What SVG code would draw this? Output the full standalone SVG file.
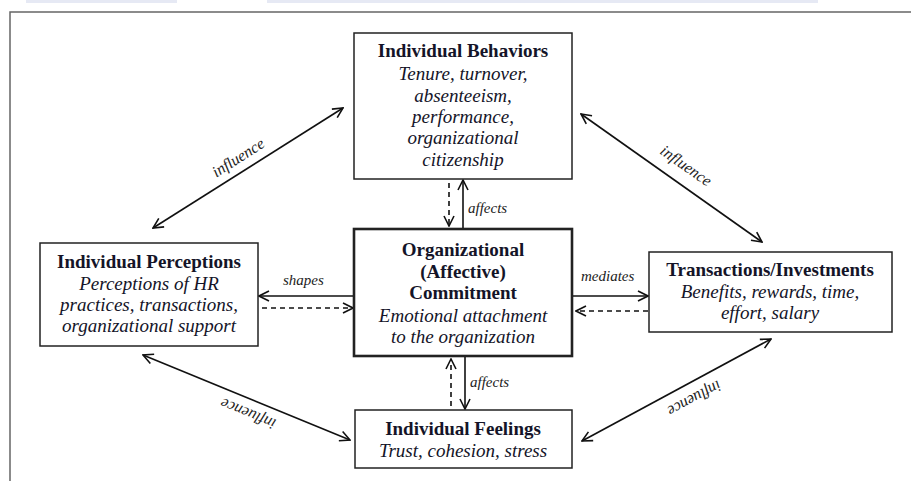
<svg xmlns="http://www.w3.org/2000/svg" width="911" height="481" viewBox="0 0 911 481">
<defs>
<marker id="ah" viewBox="0 0 12 12" refX="11" refY="6" markerWidth="12" markerHeight="12" markerUnits="userSpaceOnUse" orient="auto-start-reverse">
<path d="M1,1 L11,6 L1,11" fill="none" stroke="#111" stroke-width="1.6"/>
</marker>
</defs>
<style>
.box{fill:#fff;stroke:#222;stroke-width:1.5}
.main{fill:#fff;stroke:#222;stroke-width:2.6}
.t{font-family:"Liberation Serif","Times New Roman",serif;font-size:19px;fill:#141428;text-anchor:middle}
.b{font-weight:bold}
.i{font-style:italic}
.lab{font-family:"Liberation Serif","Times New Roman",serif;font-size:15px;font-style:italic;fill:#222}
.inf{font-size:16px}
.c{stroke:#111;stroke-width:1.6;fill:none}
.d{stroke-dasharray:5,4}
</style>
<rect width="911" height="481" fill="#fff"/>
<rect x="26" y="0" width="151" height="3" fill="#e6e9f4"/>
<rect x="267" y="0" width="551" height="3" fill="#e6e9f4"/>
<path d="M10,481 L10,12 L911,12" fill="none" stroke="#666" stroke-width="1.5"/>

<g id="connectors">
<line class="c" x1="153" y1="228" x2="343" y2="108" marker-start="url(#ah)" marker-end="url(#ah)"/>
<line class="c" x1="581" y1="114" x2="762" y2="242" marker-start="url(#ah)" marker-end="url(#ah)"/>
<line class="c" x1="143" y1="355" x2="350" y2="440" marker-start="url(#ah)" marker-end="url(#ah)"/>
<line class="c" x1="582" y1="441" x2="771" y2="339" marker-start="url(#ah)" marker-end="url(#ah)"/>
<line class="c" x1="463" y1="229" x2="463" y2="180" marker-end="url(#ah)"/>
<line class="c d" x1="449" y1="183" x2="449" y2="226" marker-end="url(#ah)"/>
<line class="c" x1="465" y1="356" x2="465" y2="409" marker-end="url(#ah)"/>
<line class="c d" x1="451" y1="406" x2="451" y2="359" marker-end="url(#ah)"/>
<line class="c" x1="354" y1="296" x2="259" y2="296" marker-end="url(#ah)"/>
<line class="c d" x1="262" y1="308" x2="353" y2="308" marker-end="url(#ah)"/>
<line class="c" x1="572" y1="296" x2="648" y2="296" marker-end="url(#ah)"/>
<line class="c d" x1="648" y1="311" x2="576" y2="311" marker-end="url(#ah)"/>
<text class="lab" x="468" y="213">affects</text>
<text class="lab" x="470" y="387">affects</text>
<text class="lab" x="283" y="285">shapes</text>
<text class="lab" x="581" y="281">mediates</text>
<text class="lab inf" text-anchor="middle" transform="translate(241,162) rotate(-32.3)">influence</text>
<text class="lab inf" text-anchor="middle" transform="translate(683,170) rotate(35.3)">influence</text>
<text class="lab inf" text-anchor="middle" transform="translate(250,409) rotate(202.3)">influence</text>
<text class="lab inf" text-anchor="middle" transform="translate(692,394) rotate(151.6)">influence</text>
</g>

<g id="behaviors">
<rect class="box" x="354" y="33" width="218" height="146"/>
<text class="t b" x="463" y="57">Individual Behaviors</text>
<text class="t i" x="463" y="80">Tenure, turnover,</text>
<text class="t i" x="463" y="102">absenteeism,</text>
<text class="t i" x="463" y="123">performance,</text>
<text class="t i" x="463" y="144">organizational</text>
<text class="t i" x="463" y="166">citizenship</text>
</g>

<g id="commitment">
<rect class="main" x="354" y="229" width="218" height="127"/>
<text class="t b" x="463" y="256">Organizational</text>
<text class="t b" x="463" y="278">(Affective)</text>
<text class="t b" x="463" y="299">Commitment</text>
<text class="t i" x="463" y="322">Emotional attachment</text>
<text class="t i" x="463" y="343">to the organization</text>
</g>

<g id="perceptions">
<rect class="box" x="40" y="243" width="218" height="103"/>
<text class="t b" x="149" y="268">Individual Perceptions</text>
<text class="t i" x="149" y="290">Perceptions of HR</text>
<text class="t i" x="149" y="311">practices, transactions,</text>
<text class="t i" x="149" y="332">organizational support</text>
</g>

<g id="transactions">
<rect class="box" x="649" y="252" width="243" height="80"/>
<text class="t b" x="770" y="276">Transactions/Investments</text>
<text class="t i" x="770" y="298">Benefits, rewards, time,</text>
<text class="t i" x="770" y="319">effort, salary</text>
</g>

<g id="feelings">
<rect class="box" x="355" y="410" width="217" height="58"/>
<text class="t b" x="463" y="435">Individual Feelings</text>
<text class="t i" x="463" y="457">Trust, cohesion, stress</text>
</g>
</svg>
